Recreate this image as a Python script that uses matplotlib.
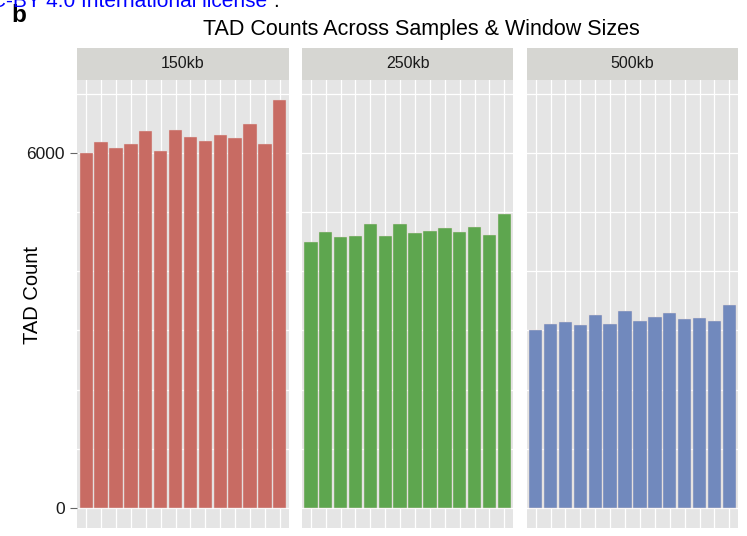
import matplotlib
matplotlib.use("Agg")
import matplotlib.pyplot as plt
import numpy as np

plt.rcParams['font.family'] = ['Liberation Sans', 'DejaVu Sans']

windows = ["150kb", "250kb", "500kb"]
samples = list(range(1, 15))
counts_150kb = [6010, 6191, 6084, 6157, 6382, 6033, 6399, 6281, 6203, 6304, 6259, 6496, 6152, 6902]
counts_250kb = [4493, 4662, 4583, 4605, 4808, 4595, 4798, 4655, 4684, 4740, 4667, 4752, 4622, 4967]
counts_500kb = [3008, 3105, 3139, 3088, 3262, 3115, 3325, 3166, 3233, 3296, 3194, 3206, 3166, 3426]
colors = ["#C86B63", "#5EA64F", "#7189BD"]
ytick_vals = [0, 6000]
ytick_labels = ["0", "6000"]

W, H = 747, 536
fig = plt.figure(figsize=(W / 100, H / 100), dpi=100)

def px(x0, y0, x1, y1):
    return [x0 / W, 1 - y1 / H, (x1 - x0) / W, (y1 - y0) / H]

panel_x = [(77.3, 288.7), (301.9, 513.3), (526.7, 738.3)]
panel_top, panel_bot = 80, 528
strip_top = 48
all_counts = [counts_150kb, counts_250kb, counts_500kb]

for i, (win, vals, col) in enumerate(zip(windows, all_counts, colors)):
    x0, x1 = panel_x[i]
    ax = fig.add_axes(px(x0, panel_top, x1, panel_bot))
    ax.set_facecolor("#E5E5E5")
    ax.set_xlim(0.4, len(samples) + 0.6)
    ax.set_ylim(-344, 7241)
    for gy in range(0, 8000, 1000):
        ax.axhline(gy, color="white", lw=0.9, zorder=1)
    for s in samples:
        ax.axvline(s, color="white", lw=0.9, zorder=1)
    ax.bar(samples, vals, width=0.9, color=col, edgecolor="#E8D8D5", linewidth=0.3, zorder=2)
    for sp in ax.spines.values():
        sp.set_visible(False)
    ax.set_xticks([])
    if i == 0:
        ax.set_yticks(ytick_vals)
        ax.set_yticklabels(ytick_labels, fontsize=12.5, color="#1a1a1a")
        ax.tick_params(axis='y', length=5, color="#666666", width=0.8, pad=4)
    else:
        ax.set_yticks([])
    sax = fig.add_axes(px(x0, strip_top, x1, panel_top))
    sax.set_facecolor("#D6D6D2")
    sax.set_xticks([]); sax.set_yticks([])
    for sp in sax.spines.values():
        sp.set_visible(False)
    sax.text(0.5, 0.5, win, ha="center", va="center", fontsize=11.5, color="#1a1a1a",
             transform=sax.transAxes)

fig.text(33 / W, 1 - 295 / H, "TAD Count", rotation=90, ha="center", va="center", fontsize=14.5)
fig.text(421 / W, 1 - 30 / H, "TAD Counts Across Samples & Window Sizes",
         ha="center", va="center", fontsize=15.5)
fig.text(11 / W, 1 - 15 / H, "b", ha="left", va="center", fontsize=17.5, fontweight="bold")
fig.text(267 / W, 1 - 7 / H, "CC-BY 4.0 International license", ha="right",
         va="baseline", fontsize=15, color="#0000FF")
fig.text(273 / W, 1 - 7 / H, ".", ha="left", va="baseline", fontsize=15, color="black")

fig.savefig("out.png", dpi=100)
